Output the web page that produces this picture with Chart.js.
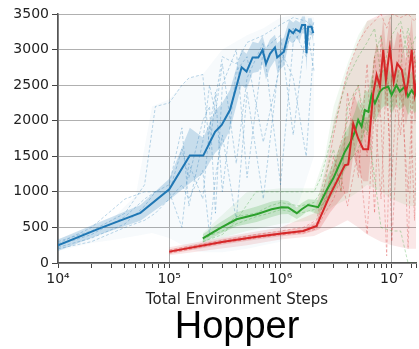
<!DOCTYPE html>
<html>
<head>
<meta charset="utf-8">
<script src="https://cdn.jsdelivr.net/npm/chart.js@4.4.1/dist/chart.umd.min.js"></script>
<style>
  html, body { margin: 0; padding: 0; background: #fff; }
  #wrap { width: 419px; height: 349px; }
</style>
</head>
<body>
<div id="wrap"><canvas id="chart"></canvas></div>
<script>
// mean curves (environment steps -> return)
const blueSteps = [1e4, 2.4e4, 5.5e4, 1.0e5, 1.53e5, 2.02e5, 2.58e5, 2.96e5, 3.51e5, 4.47e5, 4.95e5, 5.61e5, 6.31e5, 6.9e5, 7.4e5, 8.04e5, 8.91e5, 9.33e5, 1.07e6, 1.2e6, 1.3e6, 1.37e6, 1.49e6, 1.56e6, 1.66e6, 1.71e6, 1.77e6, 1.9e6, 1.97e6];
const blueMean = [250, 490, 705, 1035, 1510, 1510, 1845, 1940, 2150, 2750, 2690, 2890, 2890, 2995, 2800, 2940, 3030, 2890, 2970, 3275, 3230, 3285, 3250, 3345, 3345, 2950, 3320, 3320, 3230];
const blueSpread = [80, 90, 110, 150, 390, 250, 300, 300, 280, 250, 250, 220, 200, 200, 220, 200, 180, 200, 200, 150, 150, 130, 130, 120, 120, 250, 120, 120, 120];

const greenSteps = [2.0e5, 2.86e5, 4.03e5, 6.1e5, 8.32e5, 1.02e6, 1.17e6, 1.4e6, 1.55e6, 1.77e6, 2.18e6, 2.6e6, 2.98e6, 3.42e6, 3.79e6, 4.21e6, 4.66e6, 4.99e6, 5.35e6, 5.73e6, 6.14e6, 6.58e6, 7.05e6, 7.82e6, 8.38e6, 9.29e6, 9.96e6, 1.1e7, 1.18e7, 1.31e7, 1.4e7, 1.51e7, 1.61e7, 1.75e7];
const greenMean = [345, 490, 615, 685, 755, 785, 780, 700, 755, 815, 785, 1025, 1190, 1400, 1565, 1685, 1845, 2010, 1915, 2150, 2125, 2360, 2245, 2410, 2455, 2480, 2360, 2500, 2410, 2480, 2340, 2430, 2360, 2500];
const greenSpread = [60, 80, 100, 110, 110, 100, 90, 80, 90, 80, 100, 180, 220, 250, 260, 270, 280, 280, 280, 280, 280, 280, 270, 270, 260, 260, 260, 260, 260, 260, 260, 260, 260, 260];

const redSteps = [1.0e5, 3.06e5, 6.1e5, 1.02e6, 1.6e6, 2.11e6, 2.26e6, 2.78e6, 3.42e6, 3.79e6, 4.06e6, 4.5e6, 4.99e6, 5.54e6, 6.14e6, 6.81e6, 7.3e6, 7.82e6, 8.38e6, 8.85e6, 9.61e6, 1.04e7, 1.12e7, 1.23e7, 1.34e7, 1.4e7, 1.51e7, 1.61e7, 1.75e7];
const redMean = [160, 300, 370, 415, 450, 520, 630, 955, 1235, 1375, 1385, 1960, 1750, 1600, 1600, 2385, 2645, 2480, 2995, 2570, 3020, 2550, 2805, 2715, 2385, 2550, 2995, 2385, 2760];
const redSpread = [35, 40, 40, 40, 45, 60, 150, 250, 350, 400, 400, 450, 450, 450, 450, 450, 450, 450, 450, 450, 450, 450, 450, 450, 450, 450, 450, 450, 450];

// range covered by the individual runs
const blueEnvSteps = [1e4, 2e4, 3e4, 5e4, 7e4, 1e5, 1.5e5, 2e5, 3e5, 5e5, 7e5, 1e6, 1.5e6, 2e6];
const blueEnvHigh = [340, 480, 600, 950, 2200, 2300, 2600, 2650, 3000, 3200, 3300, 3450, 3500, 3450];
const blueEnvLow = [170, 280, 320, 380, 420, 350, 200, 150, 150, 200, 250, 300, 900, 1500];

const greenEnvSteps = [2e5, 5e5, 1e6, 2e6, 2.5e6, 3e6, 4e6, 5e6, 6e6, 8e6, 1e7, 1.4e7, 1.75e7];
const greenEnvHigh = [420, 1000, 1050, 1050, 1500, 2200, 2800, 3200, 3400, 3450, 3500, 3500, 3500];
const greenEnvLow = [280, 450, 550, 600, 700, 800, 900, 1000, 1100, 1000, 900, 800, 800];

const redEnvSteps = [1e5, 5e5, 1e6, 2e6, 2.5e6, 3e6, 4e6, 5e6, 6e6, 8e6, 1e7, 1.4e7, 1.75e7];
const redEnvHigh = [220, 420, 500, 700, 1300, 2000, 2700, 3100, 3400, 3500, 3500, 3500, 3500];
const redEnvLow = [110, 250, 330, 380, 450, 500, 600, 500, 400, 300, 250, 200, 200];

// a few of the individual (dashed) runs
const blueRunSteps = [1e4, 2e4, 4e4, 6e4, 7.5e4, 1e5, 1.3e5, 1.5e5, 2e5, 2.3e5, 2.6e5, 3e5, 4e5, 5e5, 7e5, 1e6, 1.3e6, 1.7e6, 2e6];
const blueRunA = [300, 450, 700, 1100, 2200, 2250, 2500, 2600, 2650, 1600, 2300, 2900, 2800, 3100, 3200, 3350, 3450, 3400, 3300];
const blueRunB = [200, 300, 500, 600, 700, 900, 1100, 900, 1300, 400, 1200, 1800, 600, 2400, 900, 3000, 2600, 1500, 3100];
const blueRunC = [250, 400, 650, 900, 1000, 1000, 1600, 1200, 2000, 2200, 700, 2500, 3000, 1200, 3000, 3200, 1800, 3300, 3200];
const blueRunD = [220, 350, 550, 800, 1000, 1000, 500, 1400, 900, 1900, 2400, 1000, 2700, 2900, 1700, 2800, 3300, 2900, 3400];
const blueRunE = [270, 500, 900, 1000, 1000, 1100, 1900, 800, 1700, 2500, 2100, 2800, 1400, 2600, 3100, 1100, 3100, 3350, 2700];

const greenRunSteps = [2e5, 3e5, 4e5, 6e5, 8e5, 1e6, 1.5e6, 2e6, 2.3e6, 2.6e6, 3e6, 3.5e6, 4e6, 5e6, 6e6, 7e6, 8e6, 1e7, 1.2e7, 1.4e7, 1.75e7];
const greenRunA = [300, 400, 600, 1000, 1000, 1000, 1000, 1000, 1200, 1500, 1900, 2300, 2600, 2900, 3100, 3300, 2600, 3200, 3400, 2900, 3300];
const greenRunB = [350, 450, 550, 650, 700, 750, 700, 750, 800, 900, 1100, 1300, 1400, 1600, 2000, 1200, 500, 450, 450, 0, 0];
const greenRunC = [320, 500, 650, 700, 800, 850, 800, 850, 1000, 1300, 1600, 1000, 2200, 2500, 1800, 2900, 3200, 2200, 2800, 3300, 2600];

const redRunSteps = [1e5, 3e5, 6e5, 1e6, 1.6e6, 2.1e6, 2.5e6, 3e6, 3.5e6, 4e6, 5e6, 6e6, 7e6, 8e6, 9e6, 1e7, 1.2e7, 1.4e7, 1.6e7, 1.75e7];
const redRunA = [180, 320, 400, 450, 500, 600, 1100, 1800, 2300, 2700, 3100, 3300, 3400, 3500, 3300, 3500, 3450, 3500, 3400, 3500];
const redRunB = [140, 280, 350, 400, 420, 480, 700, 900, 1200, 800, 1600, 400, 2200, 900, 2800, 300, 2500, 1000, 3000, 2000];
const redRunC = [160, 300, 380, 420, 460, 550, 900, 1300, 1700, 2000, 2500, 1500, 2900, 2000, 100, 2800, 1800, 3200, 600, 3100];
const redRunD = [150, 290, 360, 400, 440, 500, 800, 1500, 1000, 2400, 1200, 2800, 700, 3200, 2400, 1200, 3300, 200, 2900, 1500];

const yTicks = [0, 500, 1000, 1500, 2000, 2500, 3000, 3500];
const xDecades = { 4: "10⁴", 5: "10⁵", 6: "10⁶", 7: "10⁷" };

const BLUE = "31,119,180", GREEN = "44,160,44", RED = "214,39,40";
const rgba = (c, a) => `rgba(${c},${a})`;
const pts = (xs, ys) => xs.map((x, i) => ({ x, y: ys[i] }));

const datasets = [];
function band(xs, lo, hi, col, alpha, order) {
  datasets.push({ data: pts(xs, lo), borderWidth: 0, pointRadius: 0, fill: false, order });
  datasets.push({ data: pts(xs, hi), borderWidth: 0, pointRadius: 0, fill: "-1",
    backgroundColor: rgba(col, alpha), order });
}
function run(xs, ys, col, order) {
  datasets.push({ data: pts(xs, ys), borderColor: rgba(col, 0.3), borderWidth: 1,
    borderDash: [3, 2], pointRadius: 0, fill: false, order });
}
function mean(xs, ys, col, order) {
  datasets.push({ data: pts(xs, ys), borderColor: rgba(col, 1), borderWidth: 2,
    pointRadius: 0, fill: false, order });
}

band(blueEnvSteps, blueEnvLow, blueEnvHigh, BLUE, 0.035, 40);
band(greenEnvSteps, greenEnvLow, greenEnvHigh, GREEN, 0.07, 41);
band(redEnvSteps, redEnvLow, redEnvHigh, RED, 0.11, 42);
[blueRunA, blueRunB, blueRunC, blueRunD, blueRunE].forEach(r => run(blueRunSteps, r, BLUE, 30));
[greenRunA, greenRunB, greenRunC].forEach(r => run(greenRunSteps, r, GREEN, 31));
[redRunA, redRunB, redRunC, redRunD].forEach(r => run(redRunSteps, r, RED, 32));
band(blueSteps, blueMean.map((v, i) => v - blueSpread[i]), blueMean.map((v, i) => v + blueSpread[i]), BLUE, 0.22, 20);
band(greenSteps, greenMean.map((v, i) => v - greenSpread[i]), greenMean.map((v, i) => v + greenSpread[i]), GREEN, 0.2, 21);
band(redSteps, redMean.map((v, i) => v - redSpread[i]), redMean.map((v, i) => v + redSpread[i]), RED, 0.18, 22);
mean(blueSteps, blueMean, BLUE, 2);
mean(greenSteps, greenMean, GREEN, 1);
mean(redSteps, redMean, RED, 0);

const isDecade = v => Math.abs(Math.log10(v) - Math.round(Math.log10(v))) < 1e-9;

new Chart(document.getElementById("chart"), {
  type: "line",
  data: { datasets },
  options: {
    responsive: true,
    maintainAspectRatio: false,
    animation: false,
    devicePixelRatio: 1,
    layout: { padding: { top: 14, left: 0, right: 0, bottom: 0 } },
    plugins: {
      legend: { display: false },
      tooltip: { enabled: false },
      title: {
        display: true,
        text: "Hopper",
        position: "bottom",
        fullSize: false,
        color: "#000",
        font: { family: "Liberation Sans", size: 38, weight: "normal", lineHeight: 1 },
        padding: { top: 0, bottom: 2 }
      }
    },
    scales: {
      x: {
        type: "logarithmic",
        min: 1e4,
        max: 1.65e7,
        afterFit: s => { s.height = 46; },
        border: { color: "#555", width: 1.5 },
        grid: {
          color: c => (c.tick && isDecade(c.tick.value) ? "#b0b0b0" : "rgba(0,0,0,0)"),
          tickColor: "#444",
          tickLength: 5
        },
        ticks: {
          autoSkip: false,
          maxRotation: 0,
          padding: 3,
          color: "#222",
          font: { family: "DejaVu Sans", size: 14 },
          callback: v => (isDecade(v) ? xDecades[Math.round(Math.log10(v))] || "" : "")
        },
        title: {
          display: true,
          text: "Total Environment Steps",
          color: "#222",
          font: { family: "DejaVu Sans", size: 15 },
          padding: 0
        }
      },
      y: {
        min: 0,
        max: 3500,
        afterFit: s => { s.width = 58; },
        afterBuildTicks: s => { s.ticks = yTicks.map(v => ({ value: v })); },
        border: { color: "#555", width: 1.5 },
        grid: { color: "#b0b0b0", tickColor: "#444", tickLength: 6 },
        ticks: {
          padding: 3,
          color: "#222",
          font: { family: "DejaVu Sans", size: 14 },
          callback: v => String(v)
        }
      }
    }
  }
});
</script>
</body>
</html>
